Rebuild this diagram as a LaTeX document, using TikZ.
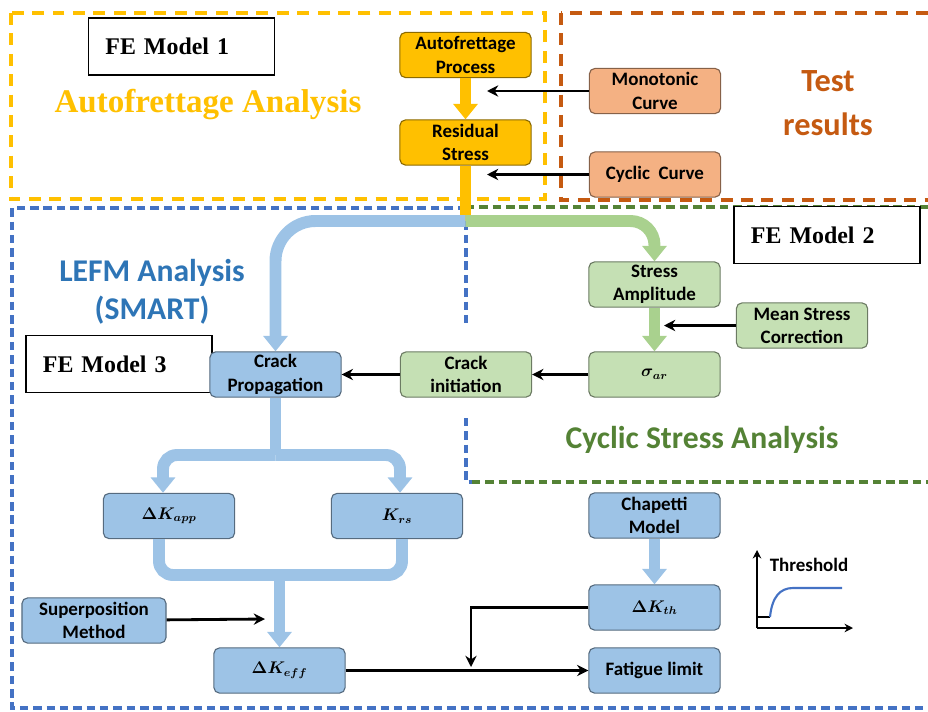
\documentclass[tikz,border=0pt]{standalone}
\usepackage{fontspec}
\usepackage{bm}
\setmainfont{Carlito}
\newfontfamily\timesfont{Liberation Serif}
\usetikzlibrary{arrows.meta}

\definecolor{afyellow}{HTML}{FFC000}
\definecolor{testorange}{HTML}{C55A11}
\definecolor{boxorange}{HTML}{F4B183}
\definecolor{lefmblue}{HTML}{4472C4}
\definecolor{boxblue}{HTML}{9DC3E6}
\definecolor{titleblue}{HTML}{2E75B6}
\definecolor{cycgreen}{HTML}{548235}
\definecolor{boxgreen}{HTML}{C5E0B4}
\definecolor{pipegreen}{HTML}{A9D18E}

\tikzset{
  stage/.style={rounded corners=4pt, draw=#1!55!black, fill=#1, line width=0.8pt,
    minimum width=3.28cm, minimum height=1.13cm, inner sep=1pt, align=center,
    font=\fontsize{13.5}{16.5}\selectfont\bfseries},
  qtystage/.style={stage=#1, font=\fontsize{12}{14}\selectfont},
  femodel/.style={draw, fill=white, line width=1pt, minimum height=1.42cm,
    text width=3.8cm, inner xsep=0.42cm, align=left,
    font=\timesfont\bfseries\fontsize{17}{20}\selectfont},
  region/.style={draw=#1, line width=2.5pt, dash pattern=on 8.5pt off 6pt},
  fineregion/.style={draw=#1, line width=2.5pt, dash pattern=on 6pt off 3.5pt},
  pipe/.style={draw=#1, line width=8.5pt},
  pipearrow/.style={pipe=#1, -{Triangle[length=11pt,width=17pt]}},
  flow/.style={line width=2pt, -{Stealth[length=8pt,width=8pt]}},
  areatitle/.style={align=center, inner sep=0pt}
}

\begin{document}
\begin{tikzpicture}[x=0.025cm, y=-0.025cm]
  \useasboundingbox (0,0) rectangle (928,711);
  \clip (0,0) rectangle (928,711);

  % dashed areas
  \draw[region=afyellow] (11,13) rectangle (545,199);
  \draw[region=testorange] (561,13) rectangle (945,200);
  \draw[fineregion=cycgreen] (466,207) -- (945,207);
  \draw[fineregion=cycgreen] (472,482) -- (945,482);
  \draw[fineregion=lefmblue] (466,208) -- (12,208) -- (12,708) -- (945,708);
  \draw[fineregion=lefmblue] (466,208) -- (466,327) (466,418) -- (466,482) -- (472,482);

  \node[areatitle, text=afyellow, font=\timesfont\bfseries\fontsize{23.5}{28}\selectfont] (aftitle) at (208,105) {Autofrettage Analysis};
  \node[areatitle, text=testorange, font=\fontsize{23}{31}\selectfont\bfseries] (testtitle) at (828,103) {Test\\results};
  \node[areatitle, text=titleblue, font=\fontsize{22.5}{27}\selectfont\bfseries] (lefmtitle) at (152,292) {LEFM Analysis\\(SMART)};
  \node[areatitle, text=cycgreen, font=\fontsize{22.5}{26}\selectfont\bfseries] (cyctitle) at (702,440) {Cyclic Stress Analysis};

  \node[femodel] (fe1) at (181.5,46.5) {FE Model 1};
  \node[femodel] (fe2) at (827,235) {FE Model 2};
  \node[femodel] (fe3) at (119,364) {FE Model 3};

  \node[stage=afyellow] (autoproc) at (465.5,55) {Autofrettage\\Process};
  \node[stage=afyellow] (residual) at (465.5,142.5) {Residual\\Stress};
  \node[stage=boxorange] (monotonic) at (655,91) {Monotonic\\Curve};
  \node[stage=boxorange] (cyclic) at (655,174.5) {Cyclic\ \ Curve};
  \node[stage=boxgreen] (stressamp) at (654.5,284.5) {Stress\\Amplitude};
  \node[stage=boxgreen] (meanstress) at (802,325.5) {Mean Stress\\Correction};
  \node[qtystage=boxgreen] (sigmaar) at (654.5,374.5) {$\boldsymbol{\sigma_{ar}}$};
  \node[stage=boxgreen] (crackinit) at (466,374.5) {Crack\\initiation};
  \node[stage=boxblue] (crackprop) at (275.5,374.5) {Crack\\Propagation};
  \node[qtystage=boxblue] (dkapp) at (169,516) {$\boldsymbol{\Delta K_{app}}$};
  \node[qtystage=boxblue] (krs) at (397,516) {$\boldsymbol{K_{rs}}$};
  \node[stage=boxblue, minimum width=3.6cm] (superpos) at (94,620.5) {Superposition\\Method};
  \node[qtystage=boxblue] (dkeff) at (279.5,670.5) {$\boldsymbol{\Delta K_{eff}}$};
  \node[stage=boxblue] (chapetti) at (654.5,515.5) {Chapetti\\Model};
  \node[qtystage=boxblue] (dkth) at (654.5,607.5) {$\boldsymbol{\Delta K_{th}}$};
  \node[stage=boxblue] (fatigue) at (654.5,670.5) {Fatigue limit};

  \coordinate (monoend) at (487,91);
  \coordinate (cycend) at (487,174.5);
  \coordinate (split) at (465.5,221);
  \coordinate (meanend) at (664,325.5);
  \coordinate (fork) at (275.5,455);
  \coordinate (merge) at (279.5,575);
  \coordinate (supend) at (265,619);
  \coordinate (thjoin) at (471,667);

  \draw[pipearrow=afyellow] (autoproc) -- (residual);
  \draw[pipe=afyellow] (residual) -- (split);
  \draw[pipearrow=boxblue, rounded corners=1cm] (split) -| (crackprop.north);
  \draw[pipearrow=pipegreen, rounded corners=0.6cm] (split) -| (stressamp.north);
  \draw[pipearrow=pipegreen] (stressamp) -- (sigmaar);
  \draw[flow] (monotonic) -- (monoend);
  \draw[flow] (cyclic) -- (cycend);
  \draw[flow] (meanstress) -- (meanend);
  \draw[flow] (sigmaar) -- (crackinit);
  \draw[flow] (crackinit) -- (crackprop);
  \draw[pipe=boxblue] (crackprop) -- (fork);
  \draw[pipearrow=boxblue, rounded corners=0.35cm] (fork) -| ([xshift=-0.15cm]dkapp.north);
  \draw[pipearrow=boxblue, rounded corners=0.35cm] (fork) -| ([xshift=0.075cm]krs.north);
  \draw[pipe=boxblue, rounded corners=0.35cm] ([xshift=-0.25cm]dkapp.south) |- (merge) -| ([xshift=0.125cm]krs.south);
  \draw[pipearrow=boxblue] (merge) -- (dkeff);
  \draw[flow] (superpos) -- (supend);
  \draw[flow] (dkeff) -- (fatigue);
  \draw[flow] (dkth) -| (thjoin);
  \draw[pipearrow=boxblue] (chapetti) -- (dkth);

  % threshold sketch
  \coordinate (orig) at (757,628);
  \draw[line width=1.5pt, -{Stealth[length=6pt,width=6pt]}] (orig) -- (757,550);
  \draw[line width=1.5pt, -{Stealth[length=6pt,width=6pt]}] (orig) -- (853,628);
  \draw[line width=1.5pt] (757,617) -- (770,617);
  \draw[lefmblue, line width=1.5pt] (770,617) .. controls (772,597) and (780,588) .. (793,588) -- (842,588);
  \node[font=\fontsize{13.5}{16}\selectfont\bfseries] (thtitle) at (809,565) {Threshold};
\end{tikzpicture}
\end{document}
